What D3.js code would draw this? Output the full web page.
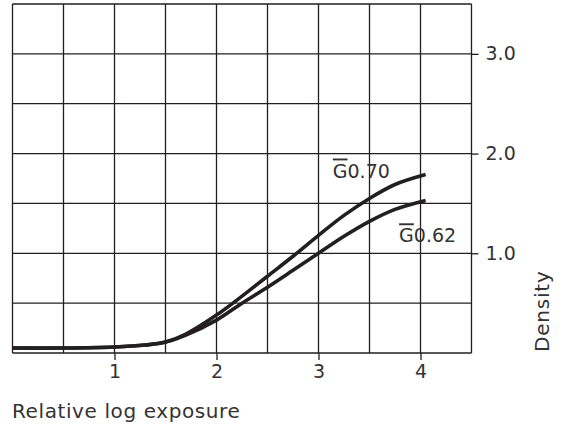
<!DOCTYPE html>
<html>
<head>
<meta charset="utf-8">
<script src="https://cdn.jsdelivr.net/npm/d3@7"></script>
<style>
body { margin:0; background:#fff; }
text { font-family: "DejaVu Sans", sans-serif; fill:#333; }
</style>
</head>
<body>
<svg width="562" height="430"></svg>
<script>
// log exposure values
var exposure = [0, 0.5, 1.0, 1.3, 1.5, 1.7, 2.0, 2.25, 2.5, 2.75, 3.0, 3.25, 3.5, 3.75, 4.05];
var densityG070 = [0.05, 0.05, 0.06, 0.08, 0.11, 0.19, 0.38, 0.57, 0.77, 0.97, 1.18, 1.38, 1.55, 1.69, 1.79];
var densityG062 = [0.05, 0.05, 0.06, 0.08, 0.11, 0.18, 0.33, 0.50, 0.66, 0.83, 1.00, 1.17, 1.32, 1.44, 1.53];
var xTicks = [1, 2, 3, 4];
var yTicks = [1.0, 2.0, 3.0];
var seriesNames = ["0.70", "0.62"];

var svg = d3.select("svg");
var x = d3.scaleLinear().domain([0, 4.5]).range([12.5, 471.5]);
var y = d3.scaleLinear().domain([0, 3.5]).range([353, 4]);

var ink = "#231f20";

// grid
var grid = svg.append("g").attr("stroke", ink).attr("stroke-width", 1.3);
d3.range(0, 4.51, 0.5).forEach(function(v){
    grid.append("line").attr("x1", x(v)).attr("x2", x(v)).attr("y1", y(0)).attr("y2", y(3.5));
});
d3.range(0, 3.51, 0.5).forEach(function(v){
    grid.append("line").attr("x1", x(0)).attr("x2", x(4.5)).attr("y1", y(v)).attr("y2", y(v));
});

// x axis ticks below plot
var xAxis = d3.axisBottom(x).tickValues(xTicks).tickSize(7).tickPadding(5).tickFormat(d3.format("d"));
var gx = svg.append("g").attr("transform", "translate(0," + y(0) + ")").call(xAxis);
gx.select(".domain").remove();
gx.selectAll("line").attr("stroke", ink).attr("stroke-width", 1.3);
gx.selectAll("text").attr("font-size", 19).attr("font-family", "DejaVu Sans").attr("fill", "#333");

// y axis on right side
var yAxis = d3.axisRight(y).tickValues(yTicks).tickSize(7).tickPadding(7).tickFormat(d3.format(".1f"));
var gy = svg.append("g").attr("transform", "translate(" + x(4.5) + ",0)").call(yAxis);
gy.select(".domain").remove();
gy.selectAll("line").attr("stroke", ink).attr("stroke-width", 1.3);
gy.selectAll("text").attr("font-size", 19).attr("font-family", "DejaVu Sans").attr("fill", "#333");

// curves
var line = d3.line()
    .x(function(d){ return x(d[0]); })
    .y(function(d){ return y(d[1]); })
    .curve(d3.curveCatmullRom);

[densityG070, densityG062].forEach(function(s){
    svg.append("path")
        .datum(exposure.map(function(e, i){ return [e, s[i]]; }))
        .attr("d", line)
        .attr("fill", "none")
        .attr("stroke", ink)
        .attr("stroke-width", 3.6);
});

// curve labels with overlined G
function curveLabel(px, py, name){
    var t = svg.append("text").attr("x", px).attr("y", py).attr("font-size", 19);
    t.append("tspan").style("text-decoration", "overline").text("G");
    t.append("tspan").text(name);
}
curveLabel(x(3.14), y(1.76), seriesNames[0]);
curveLabel(x(3.79), y(1.11), seriesNames[1]);

// axis titles
svg.append("text").attr("x", 12).attr("y", 418).attr("font-size", 20)
    .attr("letter-spacing", 0.6).text("Relative log exposure");
svg.append("text")
    .attr("transform", "translate(549,352) rotate(-90)")
    .attr("font-size", 20)
    .attr("letter-spacing", 0.8)
    .text("Density");
</script>
</body>
</html>
